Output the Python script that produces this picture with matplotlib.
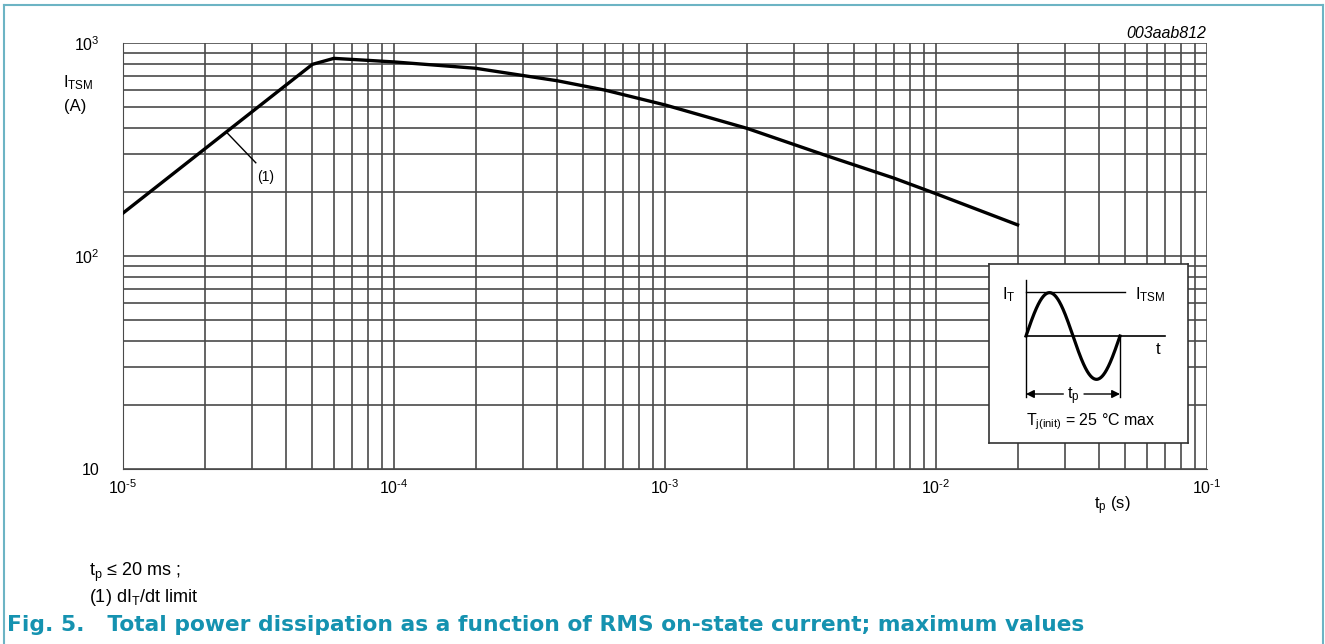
import numpy as np
import matplotlib
matplotlib.use("Agg")
import matplotlib.pyplot as plt
from matplotlib.lines import Line2D

plt.rcParams['font.family'] = ['Liberation Sans', 'DejaVu Sans']
plt.rcParams['mathtext.fontset'] = 'custom'
plt.rcParams['mathtext.rm'] = 'Liberation Sans'
plt.rcParams['mathtext.it'] = 'Liberation Sans:italic'
plt.rcParams['mathtext.bf'] = 'Liberation Sans:bold'

# ---- data ----
tp_s = [1e-5, 5e-5, 6e-5, 8e-5, 1e-4, 2e-4, 4e-4, 6e-4, 1e-3, 2e-3, 4e-3, 7e-3, 1e-2, 2e-2]
itsm_a = [159, 794, 847, 829, 815, 761, 665, 601, 512, 398, 294, 232, 196, 140]
x_ticks = [1e-5, 1e-4, 1e-3, 1e-2, 1e-1]
x_tick_labels = ['$\\mathregular{10^{\u2010' + e + '}}$' for e in ['5', '4', '3', '2', '1']]
y_ticks = [10, 100, 1000]
y_tick_labels = ['10', r'$\mathregular{10^{2}}$', r'$\mathregular{10^{3}}$']
annot_xy = (2.43e-5, 377)
annot_end = (3.09e-5, 274)
annot_text_xy = (3.36e-5, 236)

W, H = 1325, 644
fig = plt.figure(figsize=(W / 100, H / 100), dpi=100)

def fx(px):
    return px / W

def fy(py):
    return 1 - py / H

ax = fig.add_axes([fx(123), fy(469), fx(1207) - fx(123), fy(43) - fy(469)])
ax.set_xscale('log')
ax.set_yscale('log')
ax.set_xlim(1e-5, 1e-1)
ax.set_ylim(10, 1000)

grid_col = '#4a4a4a'
ax.grid(True, which='both', color=grid_col, linewidth=1.2)
ax.set_axisbelow(True)
for s in ax.spines.values():
    s.set_visible(False)
ax.spines['bottom'].set_visible(True)
ax.spines['bottom'].set_color(grid_col)
ax.spines['left'].set_visible(True)
ax.spines['left'].set_color(grid_col)
ax.tick_params(which='both', length=0)
ax.set_xticks(x_ticks)
ax.set_xticklabels(x_tick_labels, fontsize=11.5)
ax.set_yticks(y_ticks)
ax.set_yticklabels(y_tick_labels, fontsize=11.5)
ax.tick_params(axis='x', pad=7)
ax.tick_params(axis='y', pad=17)

ax.plot(tp_s, itsm_a, color='black', linewidth=2.4, solid_joinstyle='miter', zorder=3)
ax.plot([annot_xy[0], annot_end[0]], [annot_xy[1], annot_end[1]], color='black', linewidth=1.0, zorder=3)
ax.text(annot_text_xy[0], annot_text_xy[1], '(1)', fontsize=10, ha='center', va='center', zorder=3)

# axis labels
fig.text(fx(63), fy(83), r'$\mathregular{I_{TSM}}$', fontsize=12, ha='left', va='center')
fig.text(fx(64), fy(107), '(A)', fontsize=12, ha='left', va='center')
fig.text(fx(1112), fy(506), r'$\mathregular{t_{p}}$ (s)', fontsize=12, ha='center', va='center')
fig.text(fx(1206), fy(33), '003aab812', fontsize=11.5, style='italic', ha='right', va='center')

# notes and caption
fig.text(fx(89), fy(572), r'$\mathregular{t_{p}}$ ≤ 20 ms ;', fontsize=13, ha='left', va='center')
fig.text(fx(89), fy(598), r'(1) dI$\mathregular{_{T}}$/dt limit', fontsize=13, ha='left', va='center')
fig.text(fx(7), fy(625), 'Fig. 5.   Total power dissipation as a function of RMS on-state current; maximum values',
         fontsize=15.7, fontweight='bold', color='#1592b0', ha='left', va='center',
         family=['DejaVu Sans'])

# border
bcol = '#6cb4c4'
fig.add_artist(Line2D([fx(4), fx(4)], [0, fy(5)], color=bcol, linewidth=1.5))
fig.add_artist(Line2D([fx(4), fx(1323)], [fy(5), fy(5)], color=bcol, linewidth=1.5))
fig.add_artist(Line2D([fx(1323), fx(1323)], [fy(5), 0], color=bcol, linewidth=1.5))

# inset schematic (coordinates in a local 3x pixel frame)
box_x0, box_y0, box_x1, box_y1 = 88, 43, 683, 580
ins = fig.add_axes([fx(960 + box_x0 / 3), fy(250 + box_y1 / 3),
                    (box_x1 - box_x0) / 3 / W, (box_y1 - box_y0) / 3 / H])
ins.set_xlim(box_x0, box_x1)
ins.set_ylim(box_y1, box_y0)
ins.set_xticks([])
ins.set_yticks([])
for s in ins.spines.values():
    s.set_color('#333333')
    s.set_linewidth(1.2)
ins.set_facecolor('white')
ins.set_zorder(5)

x_start, x_end, y_zero, y_peak = 198, 480, 258, 125
t = np.linspace(x_start, x_end, 300)
ins.plot(t, y_zero - 130 * np.sin(2 * np.pi * (t - x_start) / (x_end - x_start)), color='black', linewidth=2.3)
ins.plot([x_start, x_start], [90, 440], color='black', linewidth=1.0)
ins.plot([x_end, x_end], [y_zero, 440], color='black', linewidth=1.0)
ins.plot([x_start, 615], [y_zero, y_zero], color='black', linewidth=1.2)
ins.plot([x_start, 495], [y_peak, y_peak], color='black', linewidth=1.0)
ins.annotate('', xy=(x_start, 432), xytext=(310, 432),
             arrowprops=dict(arrowstyle='-|>', color='black', linewidth=1.0, mutation_scale=12, shrinkA=0, shrinkB=0))
ins.annotate('', xy=(x_end, 432), xytext=(372, 432),
             arrowprops=dict(arrowstyle='-|>', color='black', linewidth=1.0, mutation_scale=12, shrinkA=0, shrinkB=0))
ins.text(340, 438, r'$\mathregular{t_{p}}$', fontsize=12, ha='center', va='center')
ins.text(145, 133, r'$\mathregular{I_{T}}$', fontsize=12, ha='center', va='center')
ins.text(570, 135, r'$\mathregular{I_{TSM}}$', fontsize=12, ha='center', va='center')
ins.text(593, 298, 't', fontsize=12, ha='center', va='center')
ins.text(392, 515, r'$\mathregular{T_{j(init)}}$ = 25 °C max', fontsize=11.5, ha='center', va='center')

fig.savefig('out.png', dpi=100, facecolor='white')
